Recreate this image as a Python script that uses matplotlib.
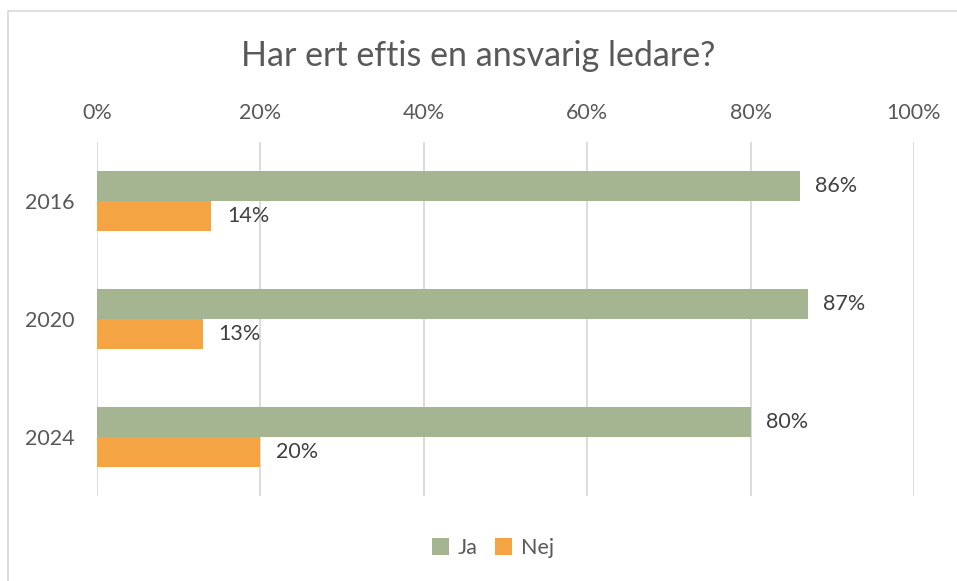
import matplotlib
matplotlib.use("Agg")
import matplotlib.pyplot as plt
from matplotlib.patches import Rectangle
import numpy as np

categories = ["2016", "2020", "2024"]
ja = [86, 87, 80]
nej = [14, 13, 20]
ticks = [0, 20, 40, 60, 80, 100]

plt.rcParams['font.family'] = ['Lato', 'DejaVu Sans']
W, H = 957, 581
fig = plt.figure(figsize=(W/100, H/100), dpi=100)
fig.patches.append(Rectangle((8/W, -0.1), 1.2, 1 - 11/H + 0.1, transform=fig.transFigure,
                             fill=False, edgecolor='#d9d9d9', linewidth=1.2))

ax = fig.add_axes([97/W, 1 - 496/H, (914-97)/W, (496-142)/H])
y = np.arange(len(categories))
h = 0.255
green = '#A5B592'
orange = '#F4A442'
ax.barh(y - h/2, ja, height=h, color=green, label='Ja', zorder=3)
ax.barh(y + h/2, nej, height=h, color=orange, label='Nej', zorder=3)
for yi, v in zip(y, ja):
    ax.text(v + 1.9, yi - h/2, f"{v}%", va='center', ha='left', fontsize=15.5, color='#404040')
for yi, v in zip(y, nej):
    ax.text(v + 1.9, yi + h/2, f"{v}%", va='center', ha='left', fontsize=15.5, color='#404040')

ax.set_xlim(0, 100)
ax.set_ylim(2.5, -0.5)
ax.set_xticks(ticks)
ax.set_xticklabels([f"{t}%" for t in ticks], fontsize=15.5, color='#595959')
ax.xaxis.tick_top()
ax.tick_params(axis='x', length=0, pad=13.5)
ax.set_yticks(y)
ax.set_yticklabels(categories, fontsize=15.5, color='#595959')
ax.tick_params(axis='y', length=0, pad=16)
ax.grid(axis='x', color='#d9d9d9', linewidth=1.3, zorder=0)
for s in ax.spines.values():
    s.set_visible(False)

fig.text(0.5, 1 - 56/H, "Har ert eftis en ansvarig ledare?", ha='center', va='center',
         fontsize=24.5, color='#595959')
fig.legend(loc='center', bbox_to_anchor=(493/W, 1 - 548/H), ncol=2, frameon=False,
           fontsize=15.5, handlelength=0.8, handleheight=0.8, handletextpad=0.4,
           columnspacing=0.8, labelcolor='#595959')
fig.savefig("out.png", dpi=100)
